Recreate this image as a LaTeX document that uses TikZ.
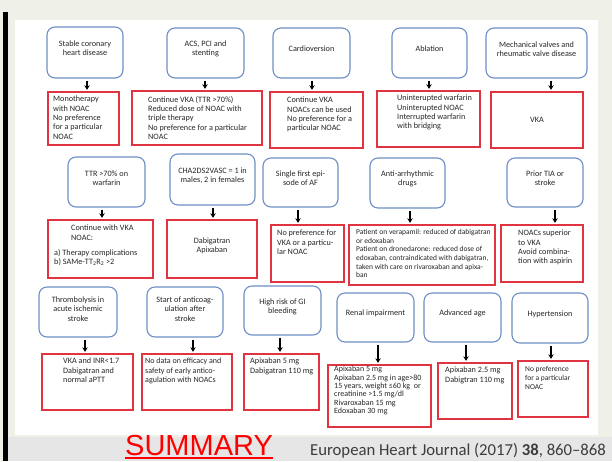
\documentclass[tikz,border=0pt]{standalone}
\usepackage{fontspec}
\setmainfont{Carlito}
\newfontfamily\arialfont{Liberation Sans}
\usetikzlibrary{arrows.meta}

\definecolor{framecream}{HTML}{EFF0E8}
\definecolor{stripgrey}{HTML}{E6E6E6}
\definecolor{condblue}{HTML}{6E8FC6}
\definecolor{recred}{HTML}{E03440}
\definecolor{inktext}{HTML}{262626}

% box from corner (x1,y1) to corner (x2,y2), y measured downwards
\newcommand\placebox[6]{%
  \node[#2, minimum width={#5-#3}, minimum height={#6-#4}] (#1)
    at ({(#3+#5)/2},{(#4+#6)/2}) {};}

\tikzset{
  cond/.style={draw=condblue, line width=1.1pt, rounded corners=8pt, fill=white, inner sep=0pt},
  rec/.style={draw=recred, line width=1.4pt, fill=white, inner sep=0pt},
  clabel/.style={align=center, inner sep=0pt, text=inktext},
  rlabel/.style={align=left, inner sep=0pt, anchor=north west, text=inktext},
  flow/.style={-{Stealth[length=4.5pt,width=5.5pt]}, line width=1.3pt,
               shorten <=2pt, shorten >=1.5pt},
}

\begin{document}
\begin{tikzpicture}[x=1pt, y=-1pt, font=\fontsize{8.2}{9.3}\selectfont]
  % page frame, white panel and caption strip
  \path[use as bounding box, fill=framecream] (0,0) rectangle (612,461);
  \fill[white] (15,20) rectangle (598,435);
  \fill[stripgrey] (8,437) rectangle (612,461);
  \fill[black] (3,12) rectangle (8,461);

  % ---------- first row ----------
  \placebox{b1}{cond}{47}{27}{123}{78}
  \placebox{b2}{cond}{167}{28}{244}{78}
  \placebox{b3}{cond}{273}{28}{350}{78}
  \placebox{b4}{cond}{392}{28}{467}{78}
  \placebox{b5}{cond}{486}{28}{587}{78}
  \node[clabel] (b1t) at ([yshift=4pt]b1.center) {Stable coronary\\heart disease};
  \node[clabel] (b2t) at ([yshift=4pt]b2.center) {ACS, PCI and\\stenting};
  \node[clabel] (b3t) at ([yshift=4pt]b3.center) {Cardioversion};
  \node[clabel] (b4t) at ([yshift=4pt]b4.center) {Ablation};
  \node[clabel] (b5t) at ([yshift=4pt]b5.center) {Mechanical valves and\\rheumatic valve disease};

  \placebox{r1}{rec}{48}{92}{119}{145}
  \placebox{r2}{rec}{132}{91}{262}{145}
  \placebox{r3}{rec}{270}{92}{363}{148}
  \placebox{r4}{rec}{377}{91}{480}{147}
  \placebox{r5}{rec}{491}{92}{583}{148}
  \node[rlabel] (r1t) at (53,96) {Monotherapy\\with NOAC\\No preference\\for a particular\\NOAC};
  \node[rlabel] (r2t) at (148,96) {Continue VKA (TTR >70\%)\\Reduced dose of NOAC with\\triple therapy\\No preference for a particular\\NOAC};
  \node[rlabel] (r3t) at (287,97) {Continue VKA\\NOACs can be used\\No preference for a\\particular NOAC};
  \node[rlabel] (r4t) at (397,95) {Uninterupted warfarin\\Uninterupted NOAC\\Interrupted warfarin\\with bridging};
  \node[clabel] (r5t) at (r5.center) {VKA};

  \draw[flow] (87,0 |- b1.south) -- (87,0 |- r1.north);
  \draw[flow] (205,0 |- b2.south) -- (205,0 |- r2.north);
  \draw[flow] (312,0 |- b3.south) -- (312,0 |- r3.north);
  \draw[flow] (429,0 |- b4.south) -- (429,0 |- r4.north);
  \draw[flow] (551,0 |- b5.south) -- (551,0 |- r5.north);

  % ---------- second row ----------
  \placebox{c1}{cond}{68}{157}{145}{207}
  \placebox{c2}{cond}{170}{154}{255}{205}
  \placebox{c3}{cond}{263}{158}{338}{207}
  \placebox{c4}{cond}{370}{158}{445}{208}
  \placebox{c5}{cond}{507}{158}{583}{207}
  \node[clabel] (c1t) at ([yshift=4pt]c1.center) {TTR >70\% on\\warfarin};
  \node[clabel] (c2t) at ([yshift=4pt]c2.center) {CHA2DS2VASC = 1 in\\males, 2 in females};
  \node[clabel] (c3t) at ([yshift=4pt]c3.center) {Single first epi-\\sode of AF};
  \node[clabel] (c4t) at ([yshift=4pt]c4.center) {Anti-arrhythmic\\drugs};
  \node[clabel] (c5t) at ([yshift=4pt]c5.center) {Prior TIA or\\stroke};

  \placebox{s1}{rec}{48}{220}{153}{278}
  \placebox{s2}{rec}{167}{220}{257}{278}
  \placebox{s3}{rec}{271}{225}{344}{282}
  \placebox{s4}{rec}{349}{225}{495}{285}
  \placebox{s5}{rec}{501}{225}{583}{282}
  \node[rlabel] (s1t) at (54,225) {\hspace*{17pt}Continue with VKA\\\hspace*{17pt}NOAC:\\[6pt]a) Therapy complications\\b) SAMe-TT\textsubscript{2}R\textsubscript{2} >2};
  \node[clabel] (s2t) at ([yshift=3pt]s2.center) {Dabigatran\\Apixaban};
  \node[rlabel] (s3t) at (277,230) {No preference for\\VKA or a particu-\\lar NOAC};
  \node[rlabel, font=\fontsize{7.5}{8.7}\selectfont] (s4t) at (356,229)
    {Patient on verapamil: reduced of dabigatran\\or edoxaban\\Patient on dronedarone: reduced dose of\\edoxaban, contraindicated with dabigatran,\\taken with care on rivaroxaban and apixa-\\ban};
  \node[rlabel] (s5t) at (518,230) {NOACs superior\\to VKA\\Avoid combina-\\tion with aspirin};

  \draw[flow] (102,0 |- c1.south) -- (102,0 |- s1.north);
  \draw[flow] (213,0 |- c2.south) -- (213,0 |- s2.north);
  \draw[flow] (298,0 |- c3.south) -- (298,0 |- s3.north);
  \draw[flow] (410,0 |- c4.south) -- (410,0 |- s4.north);
  \draw[flow] (555,0 |- c5.south) -- (555,0 |- s5.north);

  % ---------- third row ----------
  \placebox{d1}{cond}{39}{287}{117}{337}
  \placebox{d2}{cond}{147}{287}{223}{337}
  \placebox{d3}{cond}{244}{286}{321}{335}
  \placebox{d4}{cond}{337}{293}{414}{342}
  \placebox{d5}{cond}{424}{293}{501}{342}
  \placebox{d6}{cond}{512}{293}{588}{343}
  \node[clabel] (d1t) at ([yshift=3pt]d1.center) {Thrombolysis in\\acute ischemic\\stroke};
  \node[clabel] (d2t) at ([yshift=3pt]d2.center) {Start of anticoag-\\ulation after\\stroke};
  \node[clabel] (d3t) at ([yshift=4pt]d3.center) {High risk of GI\\bleeding};
  \node[clabel] (d4t) at ([yshift=4pt]d4.center) {Renal impairment};
  \node[clabel] (d5t) at ([yshift=4pt]d5.center) {Advanced age};
  \node[clabel] (d6t) at ([yshift=4pt]d6.center) {Hypertension};

  \placebox{t1}{rec}{42}{354}{133}{410}
  \placebox{t2}{rec}{142}{354}{232}{410}
  \placebox{t3}{rec}{244}{354}{319}{410}
  \placebox{t4}{rec}{328}{365}{431}{427}
  \placebox{t5}{rec}{438}{363}{512}{419}
  \placebox{t6}{rec}{518}{361}{588}{417}
  \node[rlabel] (t1t) at (63,358) {VKA and INR<1.7\\Dabigatran and\\normal aPTT};
  \node[rlabel, font=\fontsize{8}{9.3}\selectfont] (t2t) at (145,358) {No data on efficacy and\\safety of early antico-\\agulation with NOACs};
  \node[rlabel] (t3t) at (250,358) {Apixaban 5 mg\\Dabigatran 110 mg};
  \node[rlabel, font=\fontsize{8}{8.4}\selectfont] (t4t) at (334,366)
    {Apixaban 5 mg\\Apixaban 2.5 mg in age>80\\15 years, weight ≤60 kg\ \ or\\creatinine >1.5 mg/dl\\Rivaroxaban 15 mg\\Edoxaban 30 mg};
  \node[rlabel] (t5t) at (445,367) {Apixaban 2.5 mg\\Dabigtran 110 mg};
  \node[rlabel, font=\fontsize{7.5}{9}\selectfont] (t6t) at (525,366) {No preference\\for a particular\\NOAC};

  \draw[flow] (85,0 |- d1.south) -- (85,0 |- t1.north);
  \draw[flow] (193,0 |- d2.south) -- (193,0 |- t2.north);
  \draw[flow] (280,0 |- d3.south) -- (280,0 |- t3.north);
  \draw[flow] (378,0 |- d4.south) -- (378,0 |- t4.north);
  \draw[flow] (466,0 |- d5.south) -- (466,0 |- t5.north);
  \draw[flow] (551,0 |- d6.south) -- (551,0 |- t6.north);

  % ---------- caption strip ----------
  \node[font=\arialfont\fontsize{29}{29}\selectfont, text=red, anchor=base west, inner sep=0pt]
    (summary) at (125,455) {SUMMARY};
  \draw[red, line width=1.6pt] ([yshift=-3pt]summary.base west) -- ([yshift=-3pt]summary.base east);
  \node[font=\fontsize{16.7}{17}\selectfont, text=inktext!90, anchor=base west, inner sep=0pt]
    (journal) at (310,455) {European Heart Journal (2017) \textbf{38}, 860–868};
\end{tikzpicture}
\end{document}
